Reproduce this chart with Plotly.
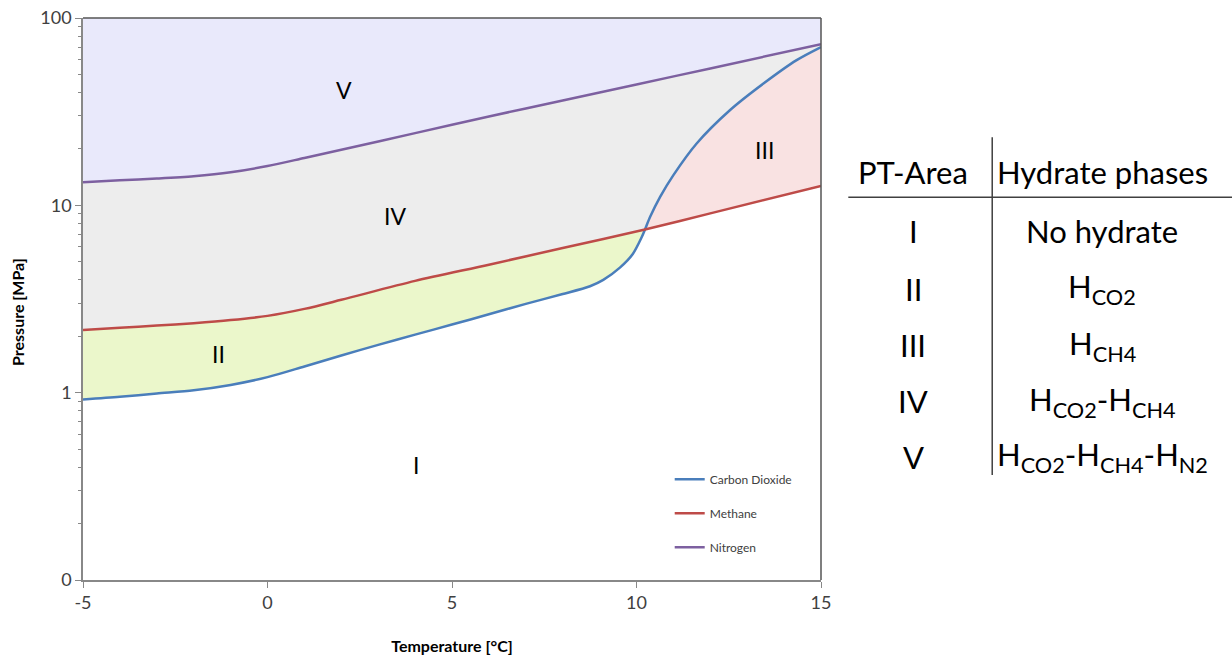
import numpy as np
import plotly.graph_objects as go

# ---------------- data ----------------
n2_T = [-5, -4, -3, -2, -1, 0, 1, 2, 4, 6, 8, 10, 12, 15]
n2_P = [13.3, 13.6, 13.9, 14.3, 15.0, 16.2, 17.9, 19.8, 24.3, 29.8, 36.3, 44.2, 53.8, 72.5]

ch4_T = [-5, -4, -3, -2, -1, 0, 1, 2, 4, 6, 8, 10.23, 12, 15]
ch4_P = [2.16, 2.22, 2.28, 2.35, 2.44, 2.57, 2.80, 3.13, 3.95, 4.82, 5.92, 7.43, 9.06, 12.7]

co2_T = [-5, -4, -3, -2, -1, 0, 1, 2, 3, 4, 5, 6, 7, 8, 8.74, 9.1, 9.55, 9.9,
         10.14, 10.23, 10.37, 10.64, 11.0, 11.63, 12.53, 13.44, 14.34, 15]
co2_P = [0.92, 0.95, 0.99, 1.03, 1.10, 1.21, 1.38, 1.58, 1.80, 2.04, 2.31, 2.62,
         2.98, 3.36, 3.70, 4.00, 4.65, 5.50, 6.75, 7.43, 8.68, 11.1, 14.5, 21.4,
         32.2, 44.7, 59.6, 70.0]

T_cross = 10.23  # where CO2 and CH4 curves meet

area_labels = ["V", "IV", "II", "III", "I"]
area_T = [2.07, 3.46, -1.34, 13.48, 4.02]
area_P = [41.2, 8.75, 1.61, 19.7, 0.41]

table_head = ["PT-Area", "Hydrate phases"]
table_areas = ["I", "II", "III", "IV", "V"]
table_phases = ["No hydrate", "H<sub>CO2</sub>", "H<sub>CH4</sub>",
                "H<sub>CO2</sub>-H<sub>CH4</sub>",
                "H<sub>CO2</sub>-H<sub>CH4</sub>-H<sub>N2</sub>"]

x_range = [-5, 15]
p_min, p_max = 0.1, 100
y_tickvals = [0.1, 1, 10, 100]
y_ticktext = ["0", "1", "10", "100"]
x_tickvals = [-5, 0, 5, 10, 15]
x_ticktext = ["-5", "0", "5", "10", "15"]

# ---------------- colours ----------------
C_CO2 = "#4A7EBB"
C_CH4 = "#BE4B48"
C_N2 = "#7D60A0"
F_V = "#E9E9FB"
F_IV = "#EDEDED"
F_II = "#EBF7CB"
F_III = "#F9E2E2"

FONT = "Lato"

# ---------------- split arrays at crossing ----------------
ch4_T_a = np.array(ch4_T); ch4_P_a = np.array(ch4_P)
co2_T_a = np.array(co2_T); co2_P_a = np.array(co2_P)
ch4_lo = ch4_T_a <= T_cross; ch4_hi = ch4_T_a >= T_cross
co2_lo = co2_T_a <= T_cross; co2_hi = co2_T_a >= T_cross

fig = go.Figure()

# Region V : above nitrogen
fig.add_trace(go.Scatter(
    x=list(n2_T) + [x_range[1], x_range[0]],
    y=list(n2_P) + [p_max, p_max],
    fill="toself", fillcolor=F_V, line=dict(width=0), mode="lines",
    showlegend=False, hoverinfo="skip"))

# Region IV : between nitrogen and upper of CH4/CO2
lower_T = list(ch4_T_a[ch4_lo]) + list(co2_T_a[co2_hi])
lower_P = list(ch4_P_a[ch4_lo]) + list(co2_P_a[co2_hi])
fig.add_trace(go.Scatter(
    x=list(n2_T) + lower_T[::-1],
    y=list(n2_P) + lower_P[::-1],
    fill="toself", fillcolor=F_IV, line=dict(width=0), mode="lines",
    showlegend=False, hoverinfo="skip"))

# Region II : between CO2 (below) and CH4 (above), T < crossing
fig.add_trace(go.Scatter(
    x=list(ch4_T_a[ch4_lo]) + list(co2_T_a[co2_lo][::-1]),
    y=list(ch4_P_a[ch4_lo]) + list(co2_P_a[co2_lo][::-1]),
    fill="toself", fillcolor=F_II, line=dict(width=0), mode="lines",
    showlegend=False, hoverinfo="skip"))

# Region III : between CH4 (below) and CO2 (above), T > crossing
fig.add_trace(go.Scatter(
    x=list(co2_T_a[co2_hi]) + list(ch4_T_a[ch4_hi][::-1]),
    y=list(co2_P_a[co2_hi]) + list(ch4_P_a[ch4_hi][::-1]),
    fill="toself", fillcolor=F_III, line=dict(width=0), mode="lines",
    showlegend=False, hoverinfo="skip"))

# Curves
fig.add_trace(go.Scatter(x=co2_T, y=co2_P, mode="lines", name="Carbon Dioxide",
                         line=dict(color=C_CO2, width=2.5, shape="spline", smoothing=0.8),
                         legendgroup="a"))
fig.add_trace(go.Scatter(x=ch4_T, y=ch4_P, mode="lines", name="Methane",
                         line=dict(color=C_CH4, width=2.5, shape="spline", smoothing=0.8),
                         legendgroup="b"))
fig.add_trace(go.Scatter(x=n2_T, y=n2_P, mode="lines", name="Nitrogen",
                         line=dict(color=C_N2, width=2.5, shape="spline", smoothing=0.8),
                         legendgroup="c"))

# Area labels
for lab, t, p in zip(area_labels, area_T, area_P):
    fig.add_annotation(x=t, y=np.log10(p), text=lab, showarrow=False,
                       xanchor="center", yanchor="middle",
                       font=dict(family=FONT, size=23, color="#000000"))

# Y axis title (as rotated annotation to control its position)
fig.add_annotation(xref="paper", yref="paper", x=-0.088, y=0.477,
                   text="<b>Pressure [MPa]</b>", textangle=-90, showarrow=False,
                   xanchor="center", yanchor="middle",
                   font=dict(family=FONT, size=16, color="#000"))

# ---------------- table on the right ----------------
col_x = [1.125, 1.381]
head_y = 0.726
row_y = [0.621, 0.518, 0.418, 0.318, 0.219]
tfont = dict(family=FONT, size=31, color="#000")
for cx, h in zip(col_x, table_head):
    fig.add_annotation(xref="paper", yref="paper", x=cx, y=head_y, text=h,
                       xanchor="center", yanchor="middle", showarrow=False, font=tfont)
for ry, a, ph in zip(row_y, table_areas, table_phases):
    fig.add_annotation(xref="paper", yref="paper", x=col_x[0], y=ry, text=a,
                       xanchor="center", yanchor="middle", showarrow=False, font=tfont)
    fig.add_annotation(xref="paper", yref="paper", x=col_x[1], y=ry, text=ph,
                       xanchor="center", yanchor="middle", showarrow=False, font=tfont)
fig.add_shape(type="line", xref="paper", yref="paper", x0=1.037, x1=1.56,
              y0=0.681, y1=0.681, line=dict(color="#404040", width=1.5))
fig.add_shape(type="line", xref="paper", yref="paper", x0=1.232, x1=1.232,
              y0=0.788, y1=0.187, line=dict(color="#404040", width=1.5))

# plot frame (top/right darker)
fig.add_shape(type="line", xref="paper", yref="paper", x0=0, x1=1, y0=1, y1=1,
              line=dict(color="#555555", width=1.5))
fig.add_shape(type="line", xref="paper", yref="paper", x0=1, x1=1, y0=0, y1=1,
              line=dict(color="#555555", width=1.5))

fig.update_layout(
    width=1232, height=663,
    margin=dict(l=83, r=411, t=18, b=83),
    plot_bgcolor="white", paper_bgcolor="white",
    font=dict(family=FONT, color="#404040"),
    showlegend=True,
    legend=dict(x=0.795, y=0.205, xanchor="left", yanchor="top",
                bgcolor="rgba(0,0,0,0)", font=dict(family=FONT, size=12, color="#404040"),
                traceorder="grouped", tracegroupgap=15),
)
fig.update_xaxes(range=x_range, tickvals=x_tickvals, ticktext=x_ticktext,
                 ticks="outside", ticklen=6, ticklabeloverflow="allow",
                 tickcolor="#888888", showgrid=False, zeroline=False,
                 showline=True, linecolor="#888888", linewidth=1.5, automargin=False,
                 tickfont=dict(family=FONT, size=18, color="#404040"),
                 title=dict(text="<b>Temperature [°C]</b>", standoff=28,
                            font=dict(family=FONT, size=16, color="#000")))
fig.update_yaxes(type="log", range=[np.log10(p_min), np.log10(p_max)],
                 tickvals=y_tickvals, ticktext=y_ticktext, ticks="outside", ticklen=6,
                 ticklabeloverflow="allow",
                 tickcolor="#888888", showgrid=False, zeroline=False,
                 showline=True, linecolor="#888888", linewidth=1.5, automargin=False,
                 minor=dict(ticks="outside", ticklen=3, tickcolor="#888888",
                            tickvals=[m * 10.0 ** e for e in (-1, 0, 1) for m in range(2, 10)],
                            showgrid=False),
                 tickfont=dict(family=FONT, size=18, color="#404040"))

# remove the default 8px page margin so the figure fills the window exactly
fig.write_html("out.html", config={"displayModeBar": False},
               post_script="document.body.style.margin='0';document.body.style.overflow='hidden';")
